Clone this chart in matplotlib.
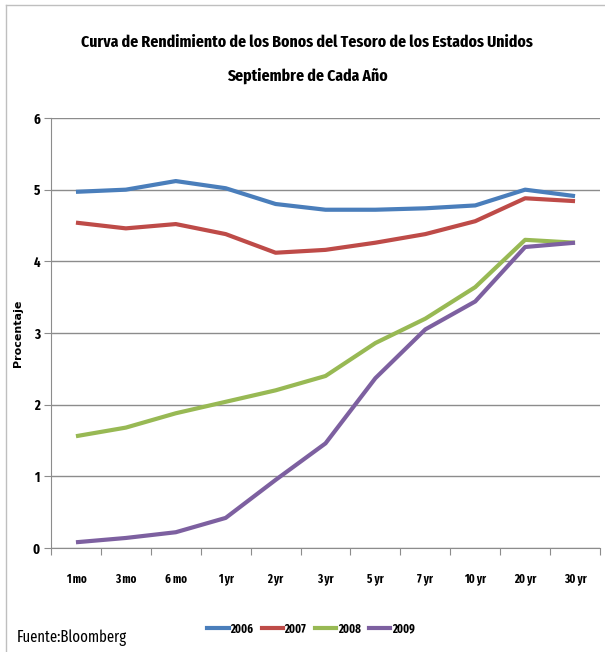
import numpy as np
from matplotlib import pyplot as plt
from matplotlib.lines import Line2D
from matplotlib.font_manager import FontProperties

fuente = ['Fira Sans Extra Condensed', 'Liberation Sans', 'DejaVu Sans']
plt.rcParams['font.family'] = fuente

plazos = ['1 mo', '3 mo', '6 mo', '1 yr', '2 yr', '3 yr', '5 yr', '7 yr', '10 yr', '20 yr', '30 yr']
y2006 = [4.97, 5.00, 5.12, 5.02, 4.80, 4.72, 4.72, 4.74, 4.78, 5.00, 4.91]
y2007 = [4.54, 4.46, 4.52, 4.38, 4.12, 4.16, 4.26, 4.38, 4.56, 4.88, 4.84]
y2008 = [1.56, 1.68, 1.88, 2.04, 2.20, 2.40, 2.86, 3.20, 3.64, 4.30, 4.26]
y2009 = [0.08, 0.14, 0.22, 0.42, 0.95, 1.46, 2.37, 3.05, 3.44, 4.20, 4.26]
series = {'2006': y2006, '2007': y2007, '2008': y2008, '2009': y2009}
colores = {'2006': '#4a7ebb', '2007': '#be4b48', '2008': '#98b954', '2009': '#7d60a0'}

fig = plt.figure(figsize=(6.05, 6.52), dpi=100)
ax = fig.add_axes([51 / 605, 1 - 548 / 652, 549 / 605, 430 / 652])

x = np.arange(len(plazos))
for nombre, vals in series.items():
    ax.plot(x, vals, color=colores[nombre], lw=3, label=nombre, solid_capstyle='butt')

ax.set_xlim(-0.5, len(plazos) - 0.5)
ax.set_ylim(0, 6)
ax.set_yticks(range(7))
ax.set_yticklabels([str(i) for i in range(7)], fontsize=10, fontweight='bold')
ax.yaxis.grid(True, color='#8c8c8c', lw=1)
ax.set_axisbelow(True)

# ticks entre categorias, etiquetas al centro
ax.set_xticks(np.arange(-0.5, len(plazos), 1))
ax.set_xticklabels([])
ax.set_xticks(x, minor=True)
ax.set_xticklabels(plazos, minor=True, fontsize=8.5, fontweight='bold')
ax.tick_params(axis='x', which='major', length=5, color='#8c8c8c', direction='out')
ax.tick_params(axis='x', which='minor', length=0, pad=18)
ax.tick_params(axis='y', length=5, color='#8c8c8c', pad=3)

for s in ['top', 'right']:
    ax.spines[s].set_visible(False)
ax.spines['left'].set_color('#8c8c8c')
ax.spines['bottom'].set_color('#8c8c8c')

ax.set_ylabel('Procentaje', labelpad=7,
              fontproperties=FontProperties(family='DejaVu Sans', weight='bold', size=8))

fig.text(0.508, 1 - 42 / 652, 'Curva de Rendimiento de los Bonos del Tesoro de los Estados Unidos',
         ha='center', va='center', fontsize=12.3, fontweight='bold')
fig.text(0.508, 1 - 76 / 652, 'Septiembre de Cada Año',
         ha='center', va='center', fontsize=12.3, fontweight='bold')

handles = [Line2D([0], [0], color=colores[n], lw=3) for n in series]
fig.legend(handles, list(series.keys()), loc='center', bbox_to_anchor=(311 / 605, 1 - 629 / 652),
           ncol=4, frameon=False, handlelength=1.8, handletextpad=0.15, columnspacing=0.7,
           prop={'weight': 'bold', 'size': 8.5, 'family': fuente})

fig.text(17 / 605, 1 - 638 / 652, 'Fuente:Bloomberg', ha='left', va='center', fontsize=11.5)

# marco del grafico
fig.add_artist(Line2D([6 / 605, 6 / 605], [0, 1 - 5 / 652], color='#bfbfbf', lw=1))
fig.add_artist(Line2D([6 / 605, 1], [1 - 5 / 652, 1 - 5 / 652], color='#bfbfbf', lw=1))

fig.savefig('out.png', dpi=100)
